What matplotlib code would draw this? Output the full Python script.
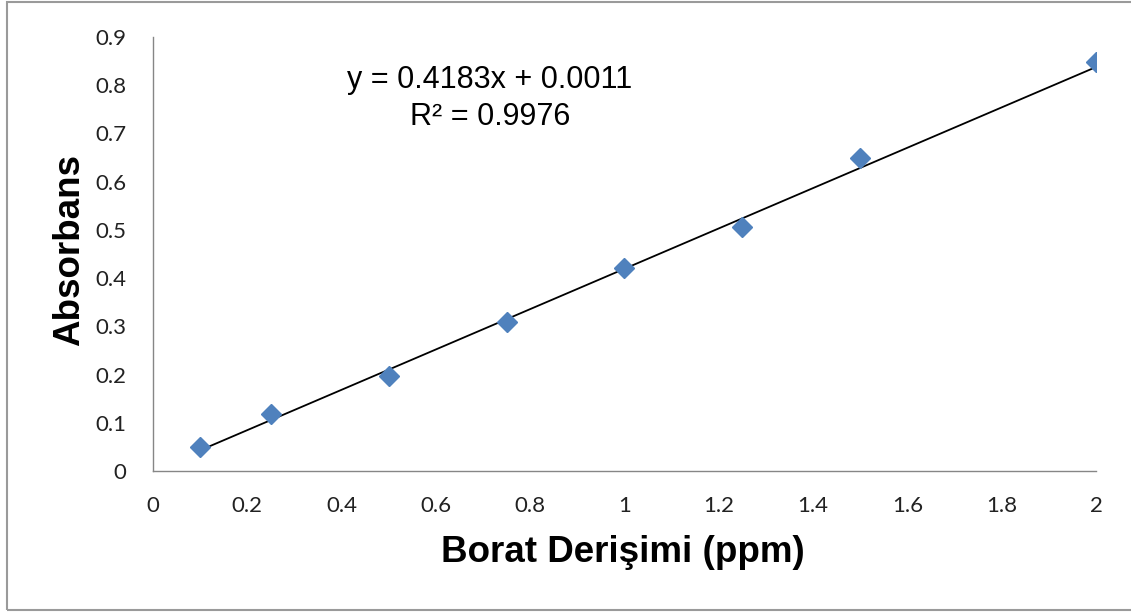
import matplotlib
matplotlib.use("Agg")
import matplotlib.pyplot as plt
from matplotlib.patches import Rectangle
import numpy as np

# calibration data
konsantrasyon = [0.1, 0.25, 0.5, 0.75, 1.0, 1.25, 1.5, 2.0]
absorbans = [0.050, 0.118, 0.198, 0.308, 0.422, 0.505, 0.649, 0.849]

egim = 0.4183
kesisim = 0.0011
r2 = 0.9976

x_ticks = [0, 0.2, 0.4, 0.6, 0.8, 1, 1.2, 1.4, 1.6, 1.8, 2]
y_ticks = [0, 0.1, 0.2, 0.3, 0.4, 0.5, 0.6, 0.7, 0.8, 0.9]

fig = plt.figure(figsize=(11.31, 6.12), dpi=100)
ax = fig.add_axes([0.1353, 0.2304, 0.969 - 0.1353, 0.9395 - 0.2304])

# outer chart frame (right edge falls outside the picture)
fig.patches.append(Rectangle((7 / 1131, 2 / 612), 1140 / 1131, 608 / 612,
                             transform=fig.transFigure, fill=False,
                             edgecolor="#9a9a9a", linewidth=1.5))

# trendline
xl = np.array([konsantrasyon[0], konsantrasyon[-1]])
ax.plot(xl, egim * xl + kesisim, color="black", linewidth=1.3, zorder=2)

ax.plot(konsantrasyon, absorbans, linestyle="none", marker="D",
        markersize=10, color="#4F81BD", markeredgecolor="#4F81BD", zorder=3)

ax.set_xlim(0, 2)
ax.set_ylim(0, 0.9)
ax.set_xticks(x_ticks)
ax.set_yticks(y_ticks)
ax.set_xticklabels([f"{v:g}" for v in x_ticks])
ax.set_yticklabels([f"{v:g}" for v in y_ticks])
ax.tick_params(axis="y", length=0, pad=19, labelsize=16)
ax.tick_params(axis="x", length=0, pad=18, labelsize=16)
for lab in ax.get_xticklabels() + ax.get_yticklabels():
    lab.set_fontfamily("Lato")
    lab.set_color("#222222")

for s in ["top", "right"]:
    ax.spines[s].set_visible(False)
for s in ["left", "bottom"]:
    ax.spines[s].set_color("#868686")
    ax.spines[s].set_linewidth(1.0)

fig.text(623 / 1131, 1 - 553 / 612, "Borat Derişimi (ppm)", fontsize=26.5,
         fontweight="bold", family="Liberation Sans", ha="center", va="center")
fig.text(70 / 1131, 1 - 250 / 612, "Absorbans", fontsize=26.5, rotation=90,
         fontweight="bold", family="Liberation Sans", ha="center", va="center")

fig.text(490 / 1131, 1 - 80 / 612, f"y = {egim}x + {kesisim}", fontsize=22,
         family="Liberation Sans", ha="center", va="center")
fig.text(490 / 1131, 1 - 117 / 612, f"R² = {r2}", fontsize=22,
         family="Liberation Sans", ha="center", va="center")

fig.savefig("out.png", dpi=100)
